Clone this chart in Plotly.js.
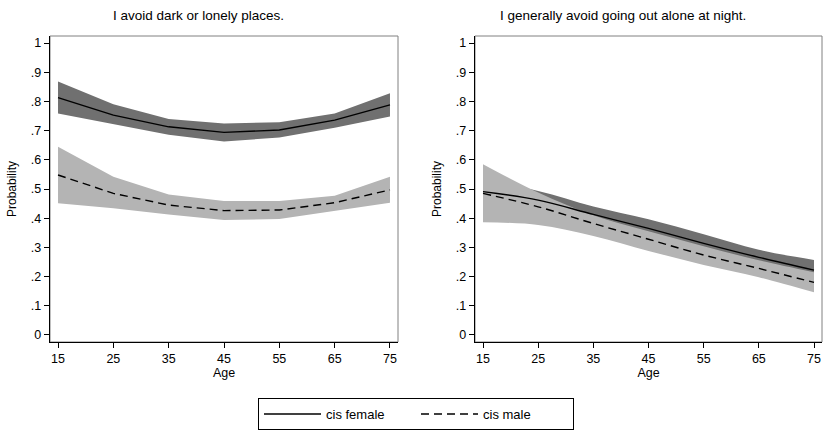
<!DOCTYPE html>
<html>
<head>
<meta charset="utf-8">
<script src="https://cdn.plot.ly/plotly-3.0.1.min.js"></script>
<style>html,body{margin:0;padding:0;background:#fff;}#chart{width:824px;height:431px;}</style>
</head>
<body>
<div id="chart"></div>
<script>
// Ages
const ages = [15, 25, 35, 45, 55, 65, 75];

// Panel 1: "I avoid dark or lonely places."
const p1FemaleMean  = [0.813, 0.753, 0.713, 0.694, 0.702, 0.736, 0.788];
const p1FemaleUpper = [0.868, 0.790, 0.740, 0.724, 0.729, 0.759, 0.828];
const p1FemaleLower = [0.759, 0.723, 0.686, 0.663, 0.676, 0.710, 0.748];
const p1MaleMean    = [0.548, 0.485, 0.445, 0.426, 0.428, 0.453, 0.497];
const p1MaleUpper   = [0.645, 0.542, 0.481, 0.459, 0.459, 0.477, 0.542];
const p1MaleLower   = [0.451, 0.434, 0.413, 0.394, 0.397, 0.426, 0.453];

// Panel 2: "I generally avoid going out alone at night."
const p2FemaleMean  = [0.491, 0.462, 0.413, 0.365, 0.314, 0.266, 0.222];
const p2FemaleUpper = [0.530, 0.493, 0.440, 0.396, 0.345, 0.292, 0.257];
const p2FemaleLower = [0.450, 0.435, 0.388, 0.336, 0.285, 0.240, 0.190];
const p2MaleMean    = [0.485, 0.439, 0.382, 0.328, 0.274, 0.228, 0.180];
const p2MaleUpper   = [0.585, 0.488, 0.410, 0.355, 0.304, 0.256, 0.215];
const p2MaleLower   = [0.386, 0.377, 0.339, 0.288, 0.240, 0.198, 0.146];

// Labels
const panelTitles = ["I avoid dark or lonely places.", "I generally avoid going out alone at night."];
const seriesNames = ["cis female", "cis male"];
const yTickVals = [0, 0.1, 0.2, 0.3, 0.4, 0.5, 0.6, 0.7, 0.8, 0.9, 1];
const yTickText = ["0", ".1", ".2", ".3", ".4", ".5", ".6", ".7", ".8", ".9", "1"];
const xTickVals = [15, 25, 35, 45, 55, 65, 75];
const xTitle = "Age";
const yTitle = "Probability";

const darkBand = "#707070";
const lightBand = "#b4b4b4";
const FONT = "Liberation Sans, Arial, sans-serif";
const DASH = "8px,5px";

function band(xa, ya, upper, lower, color, shape) {
  return [
    {x: ages, y: upper, xaxis: xa, yaxis: ya, type: "scatter", mode: "lines",
     line: {width: 0, color: color, shape: shape}, showlegend: false, hoverinfo: "skip"},
    {x: ages, y: lower, xaxis: xa, yaxis: ya, type: "scatter", mode: "lines",
     line: {width: 0, color: color, shape: shape}, fill: "tonexty", fillcolor: color,
     showlegend: false, hoverinfo: "skip"}
  ];
}
function line(xa, ya, y, dash, name, show, shape) {
  return {x: ages, y: y, xaxis: xa, yaxis: ya, type: "scatter", mode: "lines", name: name,
    line: {color: "#000", width: 1.4, dash: dash, shape: shape}, showlegend: show};
}

const traces = [].concat(
  band("x", "y", p1FemaleUpper, p1FemaleLower, darkBand, "linear"),
  band("x", "y", p1MaleUpper, p1MaleLower, lightBand, "linear"),
  [line("x", "y", p1FemaleMean, "solid", seriesNames[0], true, "linear"),
   line("x", "y", p1MaleMean, DASH, seriesNames[1], true, "linear")],
  band("x2", "y2", p2FemaleUpper, p2FemaleLower, darkBand, "spline"),
  band("x2", "y2", p2MaleUpper, p2MaleLower, lightBand, "spline"),
  [line("x2", "y2", p2FemaleMean, "solid", seriesNames[0], false, "spline"),
   line("x2", "y2", p2MaleMean, DASH, seriesNames[1], false, "spline")]
);

const W = 824, H = 431;
const yDom = [1 - 342 / H, 1 - 36 / H];
function xAxis(dom, anchor) {
  return {domain: dom, anchor: anchor, range: [13.55, 76.45], tickvals: xTickVals,
    ticks: "outside", ticklen: 5, tickwidth: 1, tickcolor: "#000", showgrid: false, zeroline: false,
    showline: true, linecolor: "#000", linewidth: 1.3, tickfont: {family: FONT, size: 12.5, color: "#000"},
    title: {text: xTitle, font: {family: FONT, size: 12.5, color: "#000"}, standoff: 1}};
}
function yAxis(dom, anchor) {
  return {domain: dom, anchor: anchor, range: [-0.024, 1.024], tickvals: yTickVals, ticktext: yTickText,
    ticks: "outside", ticklen: 5, tickwidth: 1, tickcolor: "#000", showgrid: false, zeroline: false,
    showline: true, linecolor: "#000", linewidth: 1.3, tickfont: {family: FONT, size: 12.5, color: "#000"},
    title: {text: yTitle, font: {family: FONT, size: 12, color: "#000"}, standoff: 11}};
}

const layout = {
  width: W, height: H, margin: {l: 0, r: 0, t: 0, b: 0},
  paper_bgcolor: "#fff", plot_bgcolor: "#fff",
  font: {family: FONT, color: "#000"},
  xaxis: xAxis([50 / W, 398 / W], "y"),
  yaxis: yAxis(yDom, "x"),
  xaxis2: xAxis([475 / W, 822 / W], "y2"),
  yaxis2: yAxis(yDom, "x2"),
  shapes: [
    {type: "rect", xref: "x domain", yref: "y domain", x0: 0, x1: 1, y0: 0, y1: 1,
     line: {color: "#808080", width: 1}, layer: "below"},
    {type: "rect", xref: "x2 domain", yref: "y2 domain", x0: 0, x1: 1, y0: 0, y1: 1,
     line: {color: "#808080", width: 1}, layer: "below"}
  ],
  annotations: [
    {text: panelTitles[0], xref: "paper", yref: "paper", x: 198 / W, y: 1 - 15 / H,
     xanchor: "center", yanchor: "middle",
     showarrow: false, font: {family: FONT, size: 13.5, color: "#000"}},
    {text: panelTitles[1], xref: "paper", yref: "paper", x: 623 / W, y: 1 - 15 / H,
     xanchor: "center", yanchor: "middle",
     showarrow: false, font: {family: FONT, size: 13.5, color: "#000"}}
  ],
  legend: {orientation: "h", x: 258 / W, xanchor: "left", y: 1 - 398 / H, yanchor: "top",
    bordercolor: "#000", borderwidth: 1, bgcolor: "#fff", itemwidth: 57, entrywidth: 85,
    font: {family: FONT, size: 13, color: "#000"}, traceorder: "normal"},
  showlegend: true
};

Plotly.newPlot("chart", traces, layout, {staticPlot: true, displayModeBar: false});
</script>
</body>
</html>
